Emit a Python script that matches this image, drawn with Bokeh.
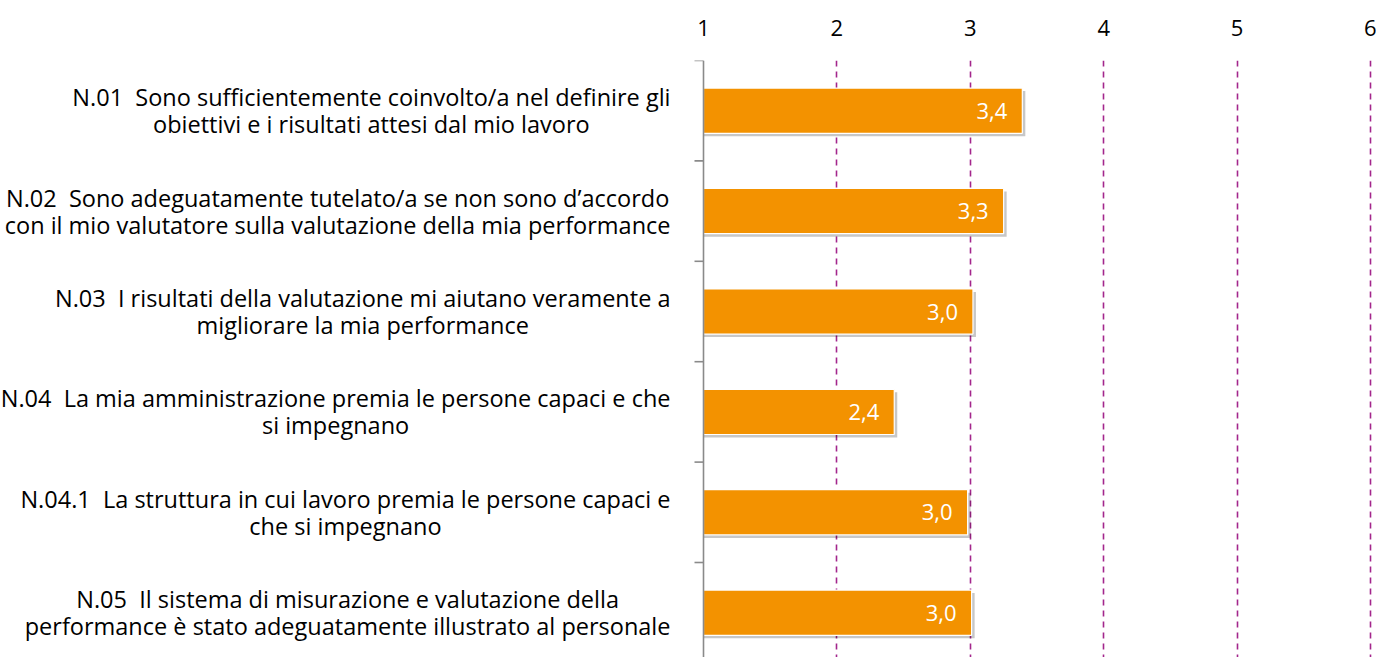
from bokeh.plotting import figure
from bokeh.models import Range1d, FixedTicker, Span, ColumnDataSource
from bokeh.core.properties import value
from bokeh.embed import file_html
from bokeh.resources import INLINE

# ---- data ----
questions = [
    "N.01\u00a0 Sono sufficientemente coinvolto/a nel definire gli\nobiettivi e i risultati attesi dal mio lavoro",
    "N.02\u00a0 Sono adeguatamente tutelato/a se non sono d\u2019accordo\ncon il mio valutatore sulla valutazione della mia performance",
    "N.03\u00a0 I risultati della valutazione mi aiutano veramente a\nmigliorare la mia performance",
    "N.04\u00a0 La mia amministrazione premia le persone capaci e che\nsi impegnano",
    "N.04.1\u00a0 La struttura in cui lavoro premia le persone capaci e\nche si impegnano",
    "N.05\u00a0 Il sistema di misurazione e valutazione della\nperformance \u00e8 stato adeguatamente illustrato al personale",
]
scores = [3.39, 3.25, 3.02, 2.43, 2.98, 3.01]
score_labels = ["3,4", "3,3", "3,0", "2,4", "3,0", "3,0"]
x_ticks = [1, 2, 3, 4, 5, 6]
grid_ticks = [2, 3, 4, 5, 6]
axis_start = 1

# ---- layout / style ----
W, H = 1376, 657
TOP = 60
FRAME_H = H - TOP
AXIS_PX = 703           # pixel of x = 1 inside the frame
PX_PER_UNIT = 133.4
BAND_PX = 100.4
X0 = axis_start - AXIS_PX / PX_PER_UNIT
X1 = X0 + W / PX_PER_UNIT
Y_TOP = -0.5
Y_BOT = Y_TOP + FRAME_H / BAND_PX

ORANGE = "#F39200"
PURPLE = "#A3268C"
GRAY = "#8A8A8A"
FONT = "Open Sans"
FS = "22px"
FS_CAT = "23.5px"

n = len(questions)
ys = list(range(n))
ux = 1.0 / PX_PER_UNIT
uy = 1.0 / BAND_PX

p = figure(width=W, height=H, x_range=Range1d(X0, X1), y_range=Range1d(Y_BOT, Y_TOP),
           x_axis_location="above", y_axis_location=None,
           output_backend="svg", toolbar_location=None,
           min_border_left=0, min_border_right=0, min_border_bottom=0, min_border_top=TOP)
p.outline_line_color = None
p.background_fill_color = "white"

xa = p.xaxis[0]
xa.ticker = FixedTicker(ticks=x_ticks)
xa.axis_line_color = None
xa.major_tick_line_color = None
xa.minor_tick_line_color = None
xa.major_label_text_font = FONT
xa.major_label_text_font_size = FS
xa.major_label_text_color = "#000000"
xa.major_label_standoff = 19

p.xgrid.ticker = FixedTicker(ticks=grid_ticks)
p.xgrid.grid_line_color = PURPLE
p.xgrid.grid_line_dash = "6 5"
p.xgrid.grid_line_width = 1.6
p.ygrid.visible = False

src = ColumnDataSource(dict(y=ys, score=scores, lab=score_labels, q=questions,
                            sy=[v + 3 * uy for v in ys],
                            sr=[s + 3 * ux for s in scores],
                            base=[axis_start] * n))

# shadow
p.hbar(y="sy", left="base", right="sr", height=0.45, source=src,
       fill_color="#000000", fill_alpha=0.22, line_color=None)
p.hbar(y="y", left="base", right="score", height=0.45, source=src,
       fill_color=ORANGE, line_color="white", line_width=1.2)

# left axis line and ticks
p.add_layout(Span(location=axis_start, dimension="height", line_color=GRAY, line_width=1.6))
bounds = [v - 0.5 for v in ys] + [ys[-1] + 0.5]
p.segment(x0=[axis_start - 9 * ux] * len(bounds), y0=bounds,
          x1=[axis_start] * len(bounds), y1=bounds, line_color=GRAY, line_width=1.6)

# category labels
p.text(x="base", y="y", text="q", source=src, x_offset=-33,
       anchor="center_right", text_align="center", text_baseline="middle",
       text_font=value(FONT), text_font_size=FS_CAT, text_color="#000000",
       text_line_height=0.85)

# value labels
p.text(x="score", y="y", text="lab", source=src, x_offset=-15,
       text_align="right", text_baseline="middle",
       text_font=value(FONT), text_font_size=FS, text_color="white")

open("out.html", "w").write(file_html(p, INLINE))
